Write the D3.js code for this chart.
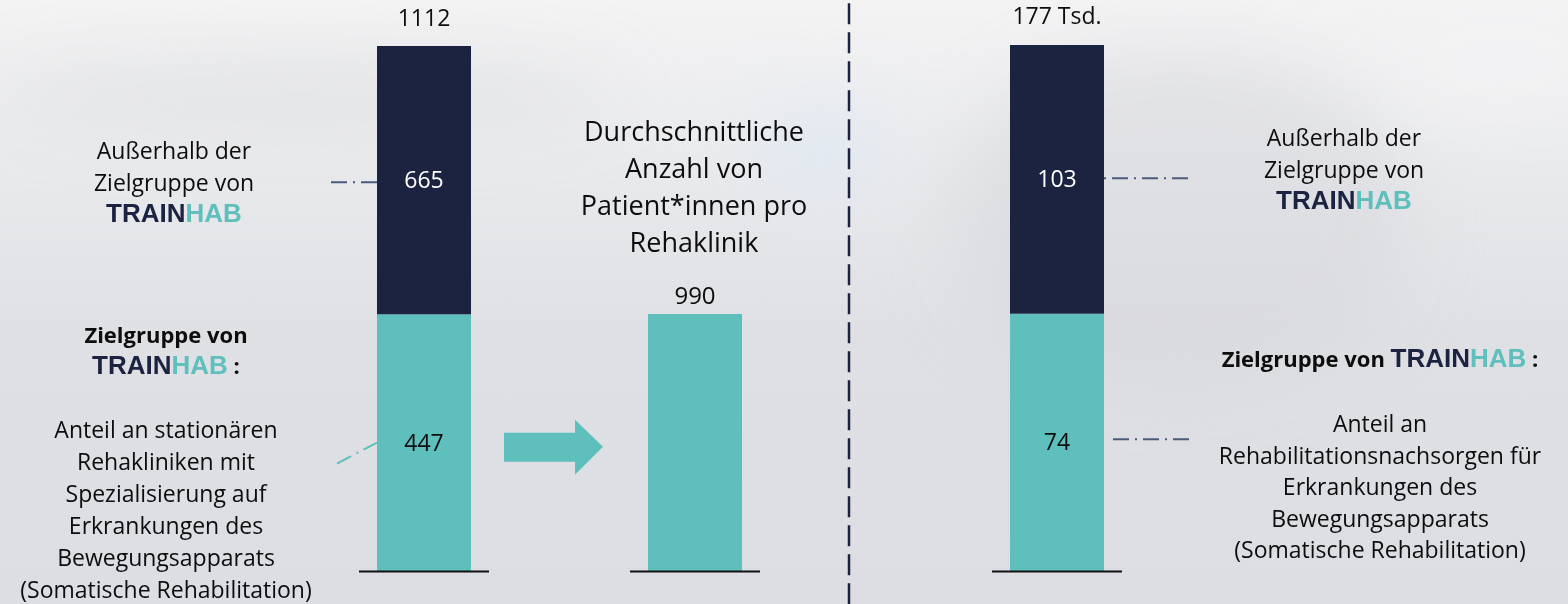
<!DOCTYPE html>
<html><head><meta charset="utf-8">
<script src="https://cdn.jsdelivr.net/npm/d3@7"></script>
<style>html,body{margin:0;padding:0;background:#e4e5e8;overflow:hidden} svg{display:block}</style>
</head><body><svg id="chart" width="1568" height="604"></svg>
<script>
// ---------- data ----------
const segments = ["Zielgruppe von TRAINHAB", "Außerhalb der Zielgruppe"];
const klinikenValues = [447, 665];
const klinikenTotalLabel = "1112";
const nachsorgeValues = [74, 103];
const nachsorgeTotalLabel = "177 Tsd.";
const avgValues = [990];
const titleLines = ["Durchschnittliche", "Anzahl von", "Patient*innen pro", "Rehaklinik"];
const outerLines = ["Außerhalb der", "Zielgruppe von"];
const leftTargetLines = ["Anteil an stationären", "Rehakliniken mit", "Spezialisierung auf", "Erkrankungen des", "Bewegungsapparats", "(Somatische Rehabilitation)"];
const rightTargetLines = ["Anteil an", "Rehabilitationsnachsorgen für", "Erkrankungen des", "Bewegungsapparats", "(Somatische Rehabilitation)"];
const brand = ["TRAIN", "HAB"];

// ---------- styles / layout ----------
const W = 1568, H = 604;
const NAVY = "#1c2341", TEAL = "#5ebfbd", SLATE = "#4a5b7c", INK = "#0d0d0d";
const FONT = "'Open Sans', 'DejaVu Sans', sans-serif";
const BRAND_FONT = "'Liberation Sans', Arial, sans-serif";
const baseY = 571, barW = 94;

const svg = d3.select("#chart");
const defs = svg.append("defs");
const bg = defs.append("linearGradient").attr("id", "bg").attr("x1", 0).attr("y1", 0).attr("x2", 0).attr("y2", 1);
[["0%", "#f3f3f4"], ["25%", "#eaebed"], ["55%", "#dfe0e4"], ["100%", "#dcdee3"]]
  .forEach(([o, c]) => bg.append("stop").attr("offset", o).attr("stop-color", c));
defs.append("filter").attr("id", "blur").attr("x", "-50%").attr("y", "-50%").attr("width", "200%").attr("height", "200%")
  .append("feGaussianBlur").attr("stdDeviation", 35);

svg.append("rect").attr("width", W).attr("height", H).attr("fill", "url(#bg)");
const blobs = svg.append("g").attr("filter", "url(#blur)");
blobs.append("ellipse").attr("cx", 300).attr("cy", 95).attr("rx", 320).attr("ry", 30).attr("fill", "#d6d7da").attr("opacity", 0.5);
blobs.append("ellipse").attr("cx", 1180).attr("cy", 220).attr("rx", 230).attr("ry", 170).attr("fill", "#d3d5da").attr("opacity", 0.45);
blobs.append("ellipse").attr("cx", 820).attr("cy", 150).attr("rx", 70).attr("ry", 40).attr("fill", "#dfe8f4").attr("opacity", 0.8);
blobs.append("ellipse").attr("cx", 1500).attr("cy", 60).attr("rx", 120).attr("ry", 60).attr("fill", "#f3f3f5").attr("opacity", 0.6);

// ---------- scales ----------
const x = d3.scaleOrdinal().domain(["kliniken", "avg", "nachsorge"]).range([424, 695, 1057]);
const yKlin = d3.scalePow().exponent(0.785).domain([0, d3.sum(klinikenValues)]).range([baseY, 46]);
const yNach = d3.scalePow().exponent(0.82).domain([0, d3.sum(nachsorgeValues)]).range([baseY, 45]);
const yAvg = d3.scaleLinear().domain([0, avgValues[0]]).range([baseY, 314]);
const segColor = d3.scaleOrdinal().domain(segments).range([TEAL, NAVY]);
const segText = d3.scaleOrdinal().domain(segments).range([INK, "#ffffff"]);

function stackOf(values) {
  const row = {}; segments.forEach((s, i) => row[s] = values[i]);
  return d3.stack().keys(segments)([row]).map(s => ({ key: s.key, y0: s[0][0], y1: s[0][1], v: s[0].data[s.key] }));
}

function drawStacked(key, values, y, totalLabel, totalBaseline) {
  const g = svg.append("g");
  const cx = x(key);
  const st = stackOf(values);
  g.selectAll("rect").data(st).join("rect")
    .attr("x", cx - barW / 2).attr("width", barW)
    .attr("y", d => y(d.y1)).attr("height", d => y(d.y0) - y(d.y1))
    .attr("fill", d => segColor(d.key));
  g.selectAll("text.v").data(st).join("text").attr("class", "v")
    .attr("x", cx).attr("y", d => (y(d.y0) + y(d.y1)) / 2 + 8)
    .attr("text-anchor", "middle").attr("font-family", FONT).attr("font-size", 23)
    .attr("fill", d => segText(d.key)).text(d => d.v);
  g.append("text").attr("x", cx).attr("y", totalBaseline).attr("text-anchor", "middle")
    .attr("font-family", FONT).attr("font-size", 23).attr("fill", INK).text(totalLabel);
  g.append("line").attr("x1", cx - 65).attr("x2", cx + 65).attr("y1", baseY + 0.5).attr("y2", baseY + 0.5)
    .attr("stroke", "#111").attr("stroke-width", 2);
  return st.map(d => ({ key: d.key, mid: (y(d.y0) + y(d.y1)) / 2 }));
}

const klinMids = drawStacked("kliniken", klinikenValues, yKlin, klinikenTotalLabel, 26);
const nachMids = drawStacked("nachsorge", nachsorgeValues, yNach, nachsorgeTotalLabel, 24);

// middle single bar
const mg = svg.append("g");
mg.selectAll("rect").data(avgValues).join("rect")
  .attr("x", x("avg") - barW / 2).attr("width", barW)
  .attr("y", d => yAvg(d)).attr("height", d => baseY - yAvg(d)).attr("fill", TEAL);
mg.selectAll("text.v").data(avgValues).join("text").attr("class", "v")
  .attr("x", x("avg")).attr("y", d => yAvg(d) - 10).attr("text-anchor", "middle")
  .attr("font-family", FONT).attr("font-size", 24).attr("fill", INK).text(d => d);
mg.append("line").attr("x1", x("avg") - 65).attr("x2", x("avg") + 65).attr("y1", baseY + 0.5).attr("y2", baseY + 0.5)
  .attr("stroke", "#111").attr("stroke-width", 2);
mg.append("text").attr("text-anchor", "middle").attr("font-family", FONT).attr("font-size", 27).attr("fill", INK)
  .selectAll("tspan").data(titleLines).join("tspan")
  .attr("x", x("avg") - 1).attr("y", (d, i) => 141 + i * 37).text(d => d);

// arrow
const ax0 = x("kliniken") + barW / 2 + 33, axTip = x("avg") - barW / 2 - 45, ay = klinMids[0].mid + 4;
svg.append("path").attr("fill", TEAL)
  .attr("d", `M${ax0},${ay - 14} H${axTip - 28} V${ay - 27} L${axTip},${ay} L${axTip - 28},${ay + 28} V${ay + 15} H${ax0} Z`);

// divider
svg.append("line").attr("x1", 849).attr("x2", 849).attr("y1", 0).attr("y2", H)
  .attr("stroke", NAVY).attr("stroke-width", 2.5).attr("stroke-dasharray", "21,8").attr("stroke-dashoffset", 25.7);

// connectors
const kL = x("kliniken") - barW / 2, nR = x("nachsorge") + barW / 2;
const conn = svg.append("g").attr("fill", "none").attr("stroke-width", 2);
conn.append("line").attr("x1", kL - 46).attr("x2", kL).attr("y1", klinMids[1].mid + 2).attr("y2", klinMids[1].mid + 2)
  .attr("stroke", SLATE).attr("stroke-dasharray", "16,6,2,6");
conn.append("line").attr("x1", kL - 40).attr("y1", klinMids[0].mid + 21).attr("x2", kL).attr("y2", klinMids[0].mid)
  .attr("stroke", TEAL).attr("stroke-dasharray", "16,6,2,6");
conn.append("line").attr("x1", nR).attr("x2", nR + 84).attr("y1", nachMids[1].mid - 1).attr("y2", nachMids[1].mid - 1)
  .attr("stroke", SLATE).attr("stroke-dasharray", "2,6,16,6");
conn.append("line").attr("x1", nR + 9).attr("x2", nR + 85).attr("y1", nachMids[0].mid - 3).attr("y2", nachMids[0].mid - 3)
  .attr("stroke", SLATE).attr("stroke-dasharray", "16,6,2,6");

// ---------- annotation text ----------
function textLines(cx, y0, dy, lines, opts = {}) {
  svg.append("text").attr("text-anchor", "middle").attr("font-family", FONT)
    .attr("font-size", opts.size || 23).attr("font-weight", opts.weight || 400).attr("fill", INK)
    .selectAll("tspan").data(lines).join("tspan").attr("x", cx).attr("y", (d, i) => y0 + i * dy).text(d => d);
}
function brandText(cx, y, prefix, suffix) {
  const t = svg.append("text").attr("x", cx).attr("y", y).attr("text-anchor", "middle");
  if (prefix) t.append("tspan").attr("font-family", FONT).attr("font-weight", 700).attr("font-size", 22).attr("fill", INK).text(prefix);
  t.append("tspan").attr("font-family", BRAND_FONT).attr("font-weight", 700).attr("font-size", 26).attr("fill", NAVY).text(brand[0]);
  t.append("tspan").attr("font-family", BRAND_FONT).attr("font-weight", 700).attr("font-size", 26).attr("fill", TEAL).text(brand[1]);
  if (suffix) t.append("tspan").attr("font-family", FONT).attr("font-weight", 700).attr("font-size", 22).attr("fill", INK).text(suffix);
}

// left panel
textLines(174, 159, 32, outerLines);
brandText(174, 222);
textLines(166, 343, 32, ["Zielgruppe von"], { weight: 700, size: 22 });
brandText(166, 374, null, "\u00a0:");
textLines(166, 438, 32, leftTargetLines);

// right panel
textLines(1344, 146, 32, outerLines);
brandText(1344, 209);
brandText(1380, 367, "Zielgruppe von\u00a0", "\u00a0:");
textLines(1380, 432, 31.6, rightTargetLines);
</script>
</body></html>
